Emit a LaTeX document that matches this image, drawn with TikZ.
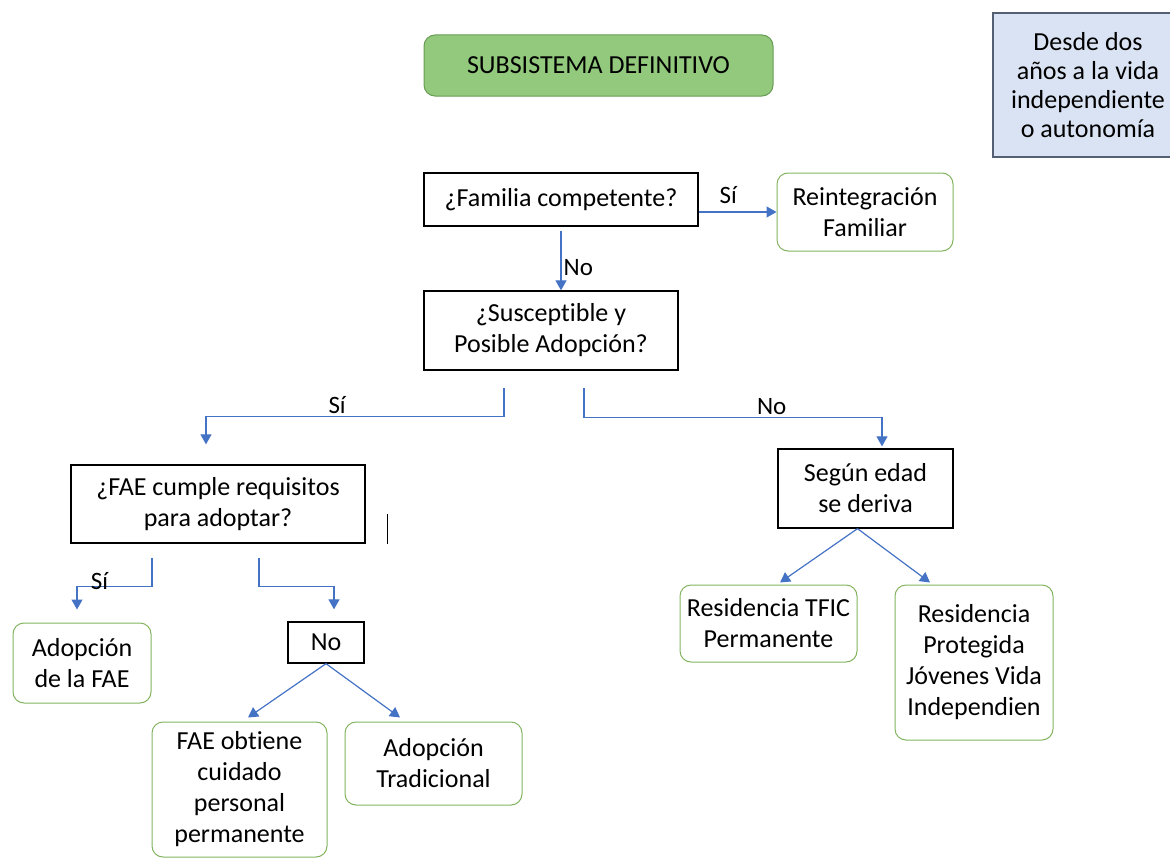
\documentclass[tikz,border=0pt]{standalone}
\usepackage{fontspec}
\setmainfont{Carlito}[Ligatures=NoCommon]
\usepackage{tikz}
\usetikzlibrary{arrows.meta}
\definecolor{linkblue}{RGB}{68,114,196}
\definecolor{resgreen}{RGB}{130,180,95}
\definecolor{titlefill}{RGB}{146,201,125}
\definecolor{titledraw}{RGB}{105,155,85}
\definecolor{notefill}{RGB}{218,227,243}
\definecolor{notedraw}{RGB}{85,95,115}

\begin{document}
\begin{tikzpicture}[x=1pt, y=-1pt,
    >={Triangle[width=11pt,length=10pt]},
    font=\fontsize{26}{31}\selectfont,
    box/.style 2 args = {minimum width=#1pt, minimum height=#2pt,
                         inner sep=0pt, align=center},
    ask/.style = {draw, line width=1.3pt},
    res/.style = {draw=resgreen, line width=1pt, rounded corners=11pt},
    link/.style = {draw=linkblue, line width=1.2pt, ->},
    el/.style = {inner sep=2pt, font=\fontsize{25}{28}\selectfont}
                    ]
\useasboundingbox (0,0) rectangle (1170,859);
\node (title) [box={349}{61}, draw=titledraw, fill=titlefill,
               line width=1pt, rounded corners=11pt] at (598.5,65.5)
               {SUBSISTEMA DEFINITIVO};
\node (note)  [box={190}{144}, draw=notedraw, fill=notefill, line width=1.2pt,
               font=\fontsize{26}{29}\selectfont] at (1088,85)
               {Desde dos\\ años a la vida\\ independiente\\ o autonomía};
\node (fam)   [ask, box={274}{53}] at (561,199.5)  {¿Familia competente?};
\node (reint) [res, box={176}{78}] at (865,212)    {Reintegración\\ Familiar};
\node (susc)  [ask, box={254}{79}] at (551,330.5)  {¿Susceptible y\\ Posible Adopción?};
\node (fae)   [ask, box={294}{78}] at (218,504)    {¿FAE cumple requisitos\\ para adoptar?};
\node (segun) [ask, box={175}{79}] at (865.5,488.5) {Según edad\\ se deriva};
\node (adfae) [res, box={138}{80}] at (82,663)     {Adopción\\ de la FAE};
\node (nob)   [ask, box={76}{41}]  at (326,642.5)  {No};
\node (obt)   [res, box={175}{135}] at (239.5,789.5) {FAE obtiene\\ cuidado\\ personal\\ permanente};
\node (trad)  [res, box={177}{83}] at (433.5,763.5) {Adopción\\ Tradicional};
\node (tfic)  [res, box={177}{77}] at (768.5,623.5) {Residencia TFIC\\ Permanente};
\node (prot)  [res, box={158}{155}] at (974,662.5) {Residencia\\ Protegida\\ Jóvenes Vida\\ Independien};

\draw[link] (fam.east |- reint.west) -- node[el, above, pos=0.38, yshift=6pt] {Sí} (reint.west);
\draw[link, shorten <=4pt] (fam.south) -- node[el, right, pos=0.64] {No} (fam.south |- susc.north);
\draw[link] ([xshift=-47pt,yshift=-17pt]susc.south) -- ++(0,29)
    -| node[el, above, pos=0.28] {Sí} ([xshift=-12pt,yshift=20pt]fae.north);
\draw[link] ([xshift=33pt,yshift=-17pt]susc.south) -- ++(0,30)
    -| node[el, above, pos=0.315] {No} ([xshift=16.5pt,yshift=2pt]segun.north);
\draw[link] ([xshift=-66pt,yshift=-14pt]fae.south) -- ++(0,29)
    -| node[el, pos=0.35, anchor=south, inner sep=0pt, yshift=-4pt] {Sí}
       ([xshift=-5pt,yshift=13pt]adfae.north);
\draw[link] ([xshift=41pt,yshift=-14pt]fae.south) -- ++(0,29)
    -| ([xshift=8pt,yshift=12pt]nob.north);
\draw[link] (nob.south) -- ([xshift=8.5pt,yshift=4pt]obt.north);
\draw[link] (nob.south) -- ([xshift=-33.5pt,yshift=4pt]trad.north);
\draw[link] ([xshift=-8pt]segun.south) -- ([xshift=11.5pt,yshift=2pt]tfic.north);
\draw[link] ([xshift=-8pt]segun.south) -- ([xshift=-44pt,yshift=2pt]prot.north);
\draw[line width=1.5pt] ([xshift=22pt]fae.south east) -- ++(0,-30);
\end{tikzpicture}
\end{document}
